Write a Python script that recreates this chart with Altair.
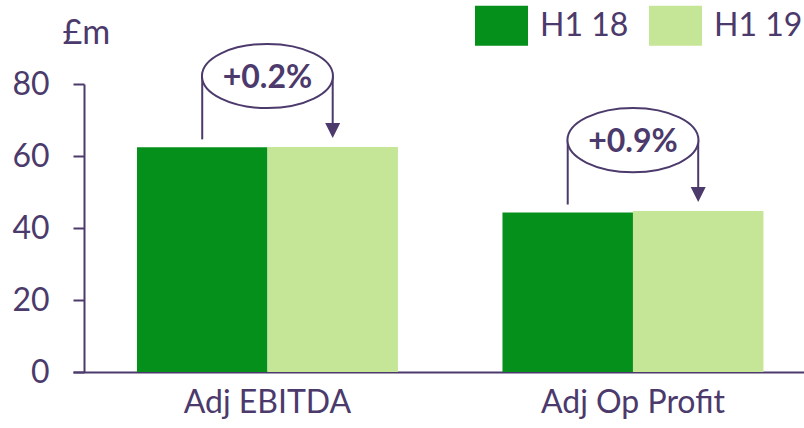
import altair as alt
import pandas as pd

# ---- data ----
categories = ["Adj EBITDA", "Adj Op Profit"]
series = ["H1 18", "H1 19"]
h1_18 = [62.4, 44.3]
h1_19 = [62.5, 44.7]
changes = ["+0.2%", "+0.9%"]
y_ticks = [0, 20, 40, 60, 80]

PURPLE = "#4B3A6B"
DARK = "#058F1B"
LIGHT = "#C6E697"
FONT = "Lato"

bars_df = pd.DataFrame({
    "category": categories * 2,
    "series": [series[0]] * len(categories) + [series[1]] * len(categories),
    "value": h1_18 + h1_19,
})
ann_df = pd.DataFrame({"category": categories, "v18": h1_18, "v19": h1_19, "label": changes})

x_scale = alt.Scale(domain=categories, paddingInner=0.286, paddingOuter=0.143, align=0.612)
xo_scale = alt.Scale(domain=series, paddingInner=0, paddingOuter=0)
y_scale = alt.Scale(domain=[0, 80], nice=False, zero=True)

x_axis = alt.Axis(title=None, labelAngle=0, labelFontSize=32, labelColor=PURPLE, labelFont=FONT,
                  ticks=False, domainColor=PURPLE, domainWidth=2, labelPadding=15, labelLimit=0)
y_axis = alt.Axis(values=y_ticks, title="£m", titleAngle=0, titleAlign="left",
                  titleBaseline="alphabetic", titleX=-22, titleY=-41, titleFontSize=34,
                  titleFont=FONT, titleColor=PURPLE, titleFontWeight="normal",
                  labelFontSize=32, labelFont=FONT, labelColor=PURPLE, labelPadding=24,
                  tickSize=11, tickWidth=2, tickColor=PURPLE, domainColor=PURPLE,
                  domainWidth=2, grid=False, offset=-11)

legend = alt.Legend(title=None, orient="none", legendX=402, legendY=-85, direction="horizontal",
                    symbolType="M -1 -0.755 L 1 -0.755 L 1 0.755 L -1 0.755 Z",
                    symbolSize=2809, symbolStrokeWidth=0, symbolOpacity=1,
                    labelFontSize=32, labelFont=FONT, labelColor=PURPLE, labelOffset=12,
                    columnPadding=20, padding=0)

xa = alt.X("category:N", scale=x_scale, sort=categories, axis=x_axis)

bars = alt.Chart(bars_df).mark_bar().encode(
    x=xa,
    xOffset=alt.XOffset("series:N", scale=xo_scale, sort=series),
    y=alt.Y("value:Q", scale=y_scale, axis=y_axis),
    color=alt.Color("series:N", scale=alt.Scale(domain=series, range=[DARK, LIGHT]), legend=legend),
)

ann = alt.Chart(ann_df).transform_calculate(
    top="max(datum.v18, datum.v19)", s18="'H1 18'", s19="'H1 19'"
)

left_rule = ann.mark_rule(color=PURPLE, strokeWidth=2, yOffset=-8, y2Offset=-71).encode(
    x=xa, xOffset=alt.XOffset("s18:N", scale=xo_scale),
    y=alt.Y("v18:Q", scale=y_scale, axis=y_axis), y2="top:Q",
)
right_rule = ann.mark_rule(color=PURPLE, strokeWidth=2, yOffset=-16, y2Offset=-71).encode(
    x=xa, xOffset=alt.XOffset("s19:N", scale=xo_scale),
    y=alt.Y("v19:Q", scale=y_scale, axis=y_axis), y2="top:Q",
)
ellipse = ann.mark_point(
    shape="M -1 0 A 1 0.49 0 1 1 1 0 A 1 0.49 0 1 1 -1 0 Z", size=131 * 131,
    filled=True, fill="white", stroke=PURPLE, strokeWidth=2, opacity=1,
    fillOpacity=1, strokeOpacity=1, yOffset=-71,
).encode(x=xa, y=alt.Y("top:Q", scale=y_scale, axis=y_axis))
label = ann.mark_text(font=FONT, fontSize=32, fontWeight="bold", color=PURPLE,
                      baseline="alphabetic", align="center", yOffset=-59).encode(
    x=xa, y=alt.Y("top:Q", scale=y_scale, axis=y_axis), text="label:N",
)
arrow = ann.mark_point(shape="M -1 -1 L 1 -1 L 0 1 Z", size=225, filled=True, color=PURPLE,
                       opacity=1, strokeWidth=0, yOffset=-16.5).encode(
    x=xa, xOffset=alt.XOffset("s19:N", scale=xo_scale),
    y=alt.Y("v19:Q", scale=y_scale, axis=y_axis),
)

chart = alt.layer(bars, left_rule, right_rule, ellipse, label, arrow).properties(
    width=731, height=288,
    autosize=alt.AutoSizeParams(type="none"),
    padding={"left": 73, "top": 84, "right": 0, "bottom": 56},
).configure_view(stroke=None)

chart.save("out.html", embed_options={"renderer": "svg", "actions": False})
